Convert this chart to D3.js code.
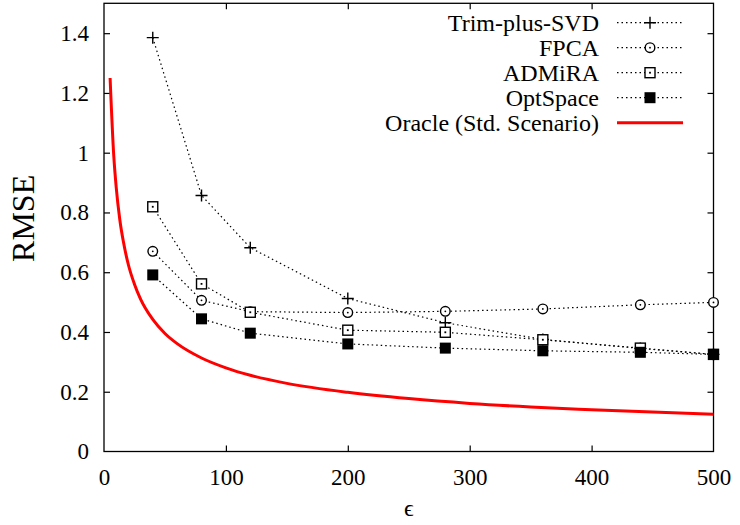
<!DOCTYPE html>
<html lang="en">
  <head>
    <meta charset="utf-8">
    <title>rmse vs epsilon</title>
    <script src="https://cdn.jsdelivr.net/npm/d3@7"></script>
    <style type="text/css">
      body { margin: 0; background: #fff; }
      text { font-family: "Liberation Serif", "DejaVu Serif", serif; fill: #000; }
      .tick text { font-size: 23px; }
      .tick line { stroke: #000; stroke-width: 1.2; }
      .frame { fill: none; stroke: #000; stroke-width: 1.3; }
      .series { fill: none; stroke: #000; stroke-width: 1.2; stroke-dasharray: 1.5,3; }
      .oracle { fill: none; stroke: #ff0000; stroke-width: 3; }
    </style>
  </head>
  <body>
    <svg width="740" height="525"></svg>
    <script type="text/javascript">
      // values
      var epsilons = [40, 80, 120, 200, 280, 360, 440, 500];
      var trimSvd  = [1.385, 0.857, 0.682, 0.512, 0.431, 0.375, 0.345, 0.325];
      var fpca     = [0.670, 0.506, 0.468, 0.465, 0.469, 0.477, 0.491, 0.499];
      var admira   = [0.819, 0.561, 0.466, 0.406, 0.399, 0.374, 0.346, 0.325];
      var optspace = [0.591, 0.444, 0.396, 0.360, 0.346, 0.337, 0.332, 0.325];

      var oracleEps  = [5, 8, 10, 13, 16, 20, 25, 30, 40, 50, 60, 80, 100, 120, 150, 200, 250, 300, 350, 400, 450, 500];
      var oracleRmse = [1.25, 0.99, 0.885, 0.775, 0.70, 0.625, 0.56, 0.51, 0.442, 0.395, 0.361, 0.313, 0.28, 0.255, 0.228, 0.198, 0.177, 0.161, 0.149, 0.14, 0.132, 0.125];

      var xTicks = [0, 100, 200, 300, 400, 500];
      var yTicks = [0, 0.2, 0.4, 0.6, 0.8, 1, 1.2, 1.4];

      var seriesNames = ["Trim-plus-SVD", "FPCA", "ADMiRA", "OptSpace"];
      var seriesShapes = ["plus", "circle", "square", "filled"];
      var seriesValues = [trimSvd, fpca, admira, optspace];
      var oracleName = "Oracle (Std. Scenario)";

      var svg = d3.select("svg");
      var plotL = 104, plotR = 713.5, plotT = 3.3, plotB = 451.5;

      var x = d3.scaleLinear().domain([0, 500]).range([plotL, plotR]);
      var y = d3.scaleLinear().domain([0, 1.5]).range([plotB, plotT]);
      var fmt = d3.format("~g");

      // axes, ticks pointing inwards on all four sides
      svg.append("g")
        .attr("transform", "translate(0," + plotB + ")")
        .call(d3.axisBottom(x).tickValues(xTicks).tickSize(-6).tickPadding(17).tickFormat(fmt))
        .call(function(g) { g.select(".domain").remove(); });
      svg.append("g")
        .attr("transform", "translate(0," + plotT + ")")
        .call(d3.axisTop(x).tickValues(xTicks).tickSize(-6).tickFormat(""))
        .call(function(g) { g.select(".domain").remove(); });
      svg.append("g")
        .attr("transform", "translate(" + plotL + ",0)")
        .call(d3.axisLeft(y).tickValues(yTicks).tickSize(-6).tickPadding(15).tickFormat(fmt))
        .call(function(g) { g.select(".domain").remove(); });
      svg.append("g")
        .attr("transform", "translate(" + plotR + ",0)")
        .call(d3.axisRight(y).tickValues(yTicks).tickSize(-6).tickFormat(""))
        .call(function(g) { g.select(".domain").remove(); });

      svg.selectAll(".tick text").attr("font-family", null).attr("font-size", null);
      // hide edge ticks sitting on the frame
      svg.selectAll(".tick line").filter(function(d) { return d === 0 || d === 500; }).remove();

      svg.append("rect")
        .attr("class", "frame")
        .attr("x", plotL).attr("y", plotT)
        .attr("width", plotR - plotL).attr("height", plotB - plotT);

      svg.append("text")
        .attr("transform", "translate(34," + ((plotT + plotB) / 2 - 9) + ") rotate(-90)")
        .attr("text-anchor", "middle")
        .style("font-size", "32px")
        .text("RMSE");

      svg.append("text")
        .attr("x", (plotL + plotR) / 2)
        .attr("y", 516)
        .attr("text-anchor", "middle")
        .style("font-size", "24px")
        .text("\u03f5");

      // oracle curve
      var oracleLine = d3.line()
        .x(function(d) { return x(d[0]); })
        .y(function(d) { return y(d[1]); })
        .curve(d3.curveMonotoneX);
      svg.append("path")
        .datum(d3.zip(oracleEps, oracleRmse))
        .attr("class", "oracle")
        .attr("d", oracleLine);

      function drawMarker(g, shape) {
        if (shape == "plus") {
          g.append("path").attr("d", "M-6,0H6M0,-6V6")
            .attr("stroke", "#000").attr("stroke-width", 1.4);
        } else if (shape == "circle") {
          g.append("circle").attr("r", 4.8)
            .attr("fill", "#fff").attr("stroke", "#000").attr("stroke-width", 1.4);
          g.append("circle").attr("r", 0.9).attr("fill", "#000");
        } else if (shape == "square") {
          g.append("rect").attr("x", -5).attr("y", -5).attr("width", 10).attr("height", 10)
            .attr("fill", "#fff").attr("stroke", "#000").attr("stroke-width", 1.4);
          g.append("rect").attr("x", -0.9).attr("y", -0.9).attr("width", 1.8).attr("height", 1.8).attr("fill", "#000");
        } else {
          g.append("rect").attr("x", -5.5).attr("y", -5.5).attr("width", 11).attr("height", 11)
            .attr("fill", "#000");
        }
      }

      var line = d3.line()
        .x(function(d) { return x(d[0]); })
        .y(function(d) { return y(d[1]); });

      seriesValues.forEach(function(vals, i) {
        svg.append("path")
          .datum(d3.zip(epsilons, vals))
          .attr("class", "series")
          .attr("d", line);
      });
      seriesValues.forEach(function(vals, i) {
        svg.selectAll(".m" + i)
          .data(d3.zip(epsilons, vals))
          .enter().append("g")
            .attr("class", "m" + i)
            .attr("transform", function(d) { return "translate(" + x(d[0]) + "," + y(d[1]) + ")"; })
            .each(function() { drawMarker(d3.select(this), seriesShapes[i]); });
      });

      // legend
      var legendNames = seriesNames.concat([oracleName]);
      var legend = svg.selectAll(".legend")
        .data(legendNames)
        .enter().append("g")
          .attr("class", "legend")
          .attr("transform", function(d, i) { return "translate(0," + (22.7 + i * 25) + ")"; });

      legend.append("text")
        .attr("x", 599)
        .attr("dy", "0.33em")
        .attr("text-anchor", "end")
        .style("font-size", "24px")
        .text(function(d) { return d; });

      legend.append("line")
        .attr("x1", 617).attr("x2", 683)
        .attr("class", function(d, i) { return i < 4 ? "series" : "oracle"; });

      legend.filter(function(d, i) { return i < 4; })
        .append("g")
          .attr("transform", "translate(650,0)")
          .each(function(d, i) { drawMarker(d3.select(this), seriesShapes[i]); });
    </script>
  </body>
</html>
